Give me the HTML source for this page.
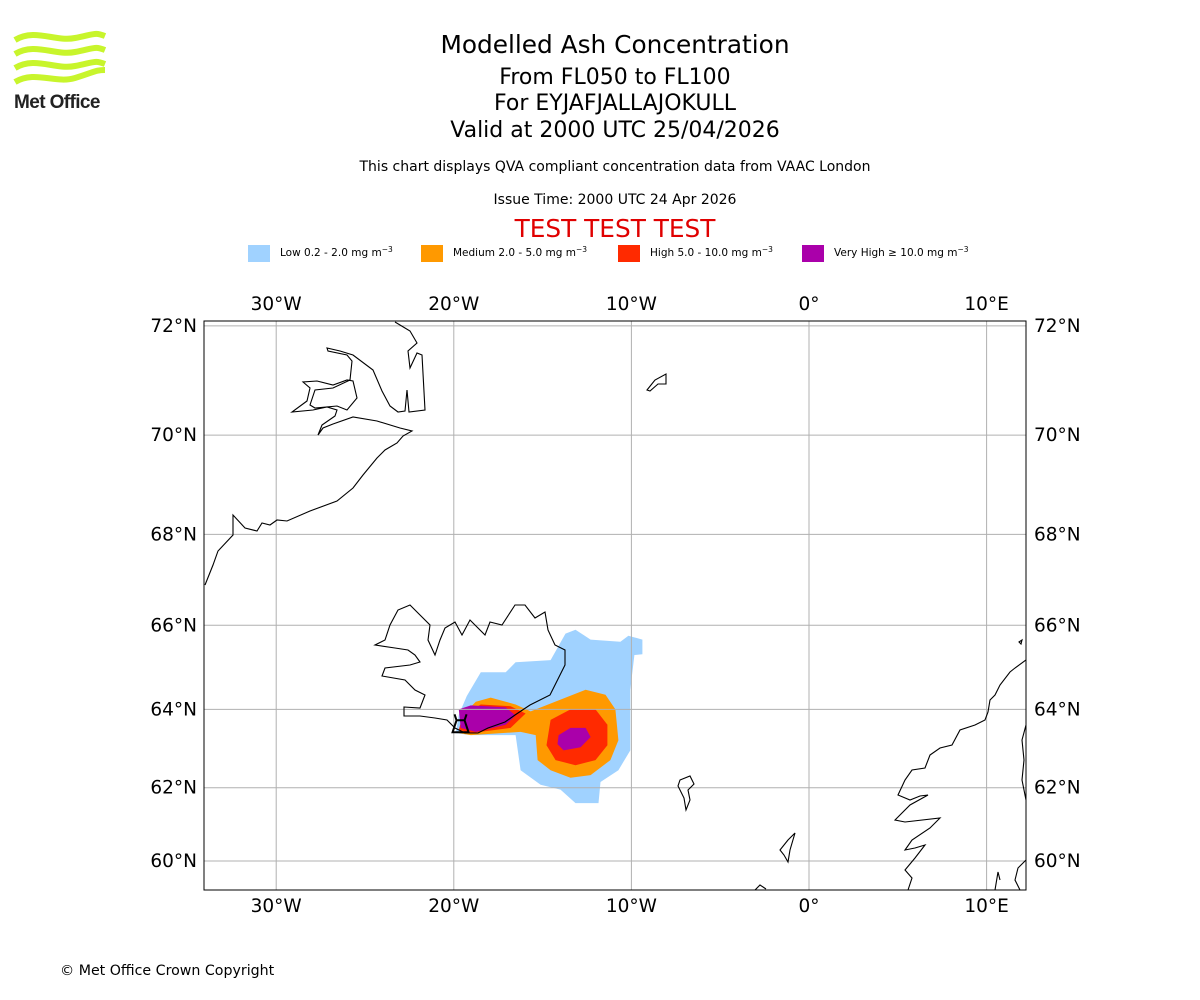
<!DOCTYPE html>
<html><head><meta charset="utf-8"><style>
body{margin:0;background:#fff;}
svg{display:block;font-family:"DejaVu Sans","Liberation Sans",sans-serif;}
</style></head><body>
<svg id="c" width="1200" height="1000" viewBox="0 0 1200 1000">
<g fill="none" stroke="#c8f52c" stroke-width="6">
<path d="M15,40 C35,28 55,42 75,38 S95,32 105,36"/>
<path d="M15,54 C35,42 55,56 75,52 S95,46 105,50"/>
<path d="M15,68 C35,56 55,70 75,66 S95,60 105,64"/>
<path d="M15,82 C35,70 55,84 75,78 S95,70 105,70"/>
<text x="14" y="108" font-family="Liberation Sans,sans-serif" font-size="19" font-weight="bold" fill="#222" stroke="none" letter-spacing="-0.6">Met Office</text>
</g>
<g text-anchor="middle">
<text x="615" y="53" font-size="24.8">Modelled Ash Concentration</text>
<text x="615" y="84" font-size="22">From FL050 to FL100</text>
<text x="615" y="110" font-size="22">For EYJAFJALLAJOKULL</text>
<text x="615" y="137" font-size="22">Valid at 2000 UTC 25/04/2026</text>
<text x="615" y="171" font-size="14">This chart displays QVA compliant concentration data from VAAC London</text>
<text x="615" y="204" font-size="14">Issue Time: 2000 UTC 24 Apr 2026</text>
<text x="615" y="237" font-size="24.8" fill="#e00000">TEST TEST TEST</text>
</g>
<g font-size="10.5">
<rect x="248" y="245" width="22" height="17" fill="#a0d2ff"/>
<text x="280" y="256">Low 0.2 - 2.0 mg m<tspan dy="-4" font-size="7.5">−3</tspan></text>
<rect x="421" y="245" width="22" height="17" fill="#ff9900"/>
<text x="453" y="256">Medium 2.0 - 5.0 mg m<tspan dy="-4" font-size="7.5">−3</tspan></text>
<rect x="618" y="245" width="22" height="17" fill="#ff2a00"/>
<text x="650" y="256">High 5.0 - 10.0 mg m<tspan dy="-4" font-size="7.5">−3</tspan></text>
<rect x="802" y="245" width="22" height="17" fill="#aa00aa"/>
<text x="834" y="256">Very High  ≥  10.0 mg m<tspan dy="-4" font-size="7.5">−3</tspan></text>
</g>
<g id="plot"></g>
<text x="60" y="975" font-size="14.2">© Met Office Crown Copyright</text>
</svg>
<script>
const lonTicks=[-30,-20,-10,0,10];
const lonLabels=["30°W","20°W","10°W","0°","10°E"];
const latTicks=[60,62,64,66,68,70,72];
const latLabels=["60°N","62°N","64°N","66°N","68°N","70°N","72°N"];
const lowLon=[-19.27,-18.48,-17.08,-16.52,-14.55,-13.71,-13.15,-12.30,-10.62,-10.17,-9.38,-9.38,-9.83,-10.06,-10.06,-10.73,-11.74,-11.85,-13.15,-13.99,-15.11,-16.24,-16.52,-19.04,-19.89,-19.72];
const lowLat=[64.33,64.90,64.90,65.14,65.19,65.81,65.90,65.67,65.62,65.76,65.67,65.33,65.31,64.48,62.97,62.46,62.15,61.59,61.59,61.95,62.08,62.46,63.36,63.36,63.41,63.87];
const medLon=[-19.49,-18.76,-17.92,-16.52,-15.67,-13.99,-12.58,-11.46,-10.90,-10.73,-11.18,-12.30,-13.43,-14.55,-15.28,-15.39,-16.24,-19.04,-19.72];
const medLat=[63.87,64.19,64.29,64.12,63.95,64.24,64.48,64.36,64.00,63.23,62.72,62.33,62.26,62.46,62.72,63.36,63.44,63.36,63.41];
const highWLon=[-19.49,-18.48,-16.80,-15.96,-16.80,-19.04,-19.72];
const highWLat=[63.87,64.12,64.08,63.90,63.54,63.41,63.49];
const highELon=[-14.55,-13.43,-12.02,-11.35,-11.35,-12.02,-13.15,-14.27,-14.78];
const highELat=[63.74,64.00,64.00,63.62,63.10,62.72,62.59,62.72,63.10];
const vhWLon=[-19.72,-19.04,-17.08,-16.52,-17.08,-18.76,-19.61];
const vhWLat=[64.00,64.10,64.05,63.85,63.62,63.44,63.54];
const vhELon=[-14.10,-13.43,-12.58,-12.30,-12.86,-13.82,-14.16];
const vhELat=[63.36,63.54,63.54,63.31,63.05,62.97,63.13];
const volcanoLon=[-19.62];
const volcanoLat=[63.63];

const NS='http://www.w3.org/2000/svg';
const L=204,R=1026,T=321,B=890;
const K=1017.7;
const merc=a=>Math.log(Math.tan(Math.PI/4+a*Math.PI/360));
const xS=lon=>809+lon*17.76;
const yS=lat=>861-K*(merc(lat)-merc(60));
const g=document.getElementById('plot');
function mk(t,a,p){const e=document.createElementNS(NS,t);for(const k in a)e.setAttribute(k,a[k]);(p||g).appendChild(e);return e;}
const defs=mk('defs',{});
const cp=mk('clipPath',{id:'clip'},defs);mk('rect',{x:L,y:T,width:R-L,height:B-T},cp);
const inner=mk('g',{'clip-path':'url(#clip)'});


function poly(lons,lats,fill,name){
 const pts=lons.map((v,i)=>xS(v).toFixed(1)+','+yS(lats[i]).toFixed(1)).join(' ');
 const p=mk('polygon',{points:pts,fill:fill},inner);
 
 
}
poly(lowLon,lowLat,'#a0d2ff','ash-low');
poly(medLon,medLat,'#ff9900','ash-medium');
poly(highWLon,highWLat,'#ff2a00','ash-high-west');
poly(highELon,highELat,'#ff2a00','ash-high-east');
poly(vhWLon,vhWLat,'#aa00aa','ash-very-high-west');
poly(vhELon,vhELat,'#aa00aa','ash-very-high-east');
lonTicks.forEach(v=>{const l=mk('line',{x1:xS(v),x2:xS(v),y1:T,y2:B,stroke:'#b0b0b0','stroke-width':1},inner);

});
latTicks.forEach(v=>{const l=mk('line',{x1:L,x2:R,y1:yS(v),y2:yS(v),stroke:'#b0b0b0','stroke-width':1},inner);

});
const coasts=[
"M205,585 L213,565 218,551 233,535 233,515 245,528 257,531 262,523 270,525 277,520 287,521 310,511 337,501 353,488 363,475 377,458 385,450 397,443 403,436 412,431 400,428 377,421 353,417 333,424 323,428 318,435 322,425 335,416 337,410 327,407 313,410 292,412 307,401 310,388 303,382 317,381 333,385 347,380 353,381 357,398 347,410 337,406 315,408 310,405 315,390 333,388 350,380 352,361 347,355 328,351 327,348 340,351 353,355 373,370 382,391 390,406 398,412 405,411 407,390 409,412 425,410 422,355 417,353 410,368 408,351 417,343 410,331 395,322",
"M404,707 L420,708 425,695 415,690 405,680 382,676 385,668 410,665 420,662 415,655 408,650 395,648 375,645 385,640 390,625 398,610 410,605 420,615 430,625 428,640 435,655 440,640 445,628 455,622 462,635 470,620 485,635 490,622 502,625 515,605 525,605 535,618 545,612 548,630 555,645 565,650 565,665 555,685 550,695 530,705 515,715 505,722 488,728 478,733 465,733 455,728 447,720 435,718 420,716 404,716Z",
"M647,390 L655,380 666,374 666,384 658,384 650,391Z",
"M680,780 L690,776 694,784 688,790 690,800 686,810 684,798 678,786Z",
"M780,850 L788,840 795,833 790,850 788,862 784,855Z",
"M755,890 L760,885 766,889",
"M1026,660 L1015,668 1010,672 1000,685 995,695 990,700 988,712 985,720 975,725 960,730 952,745 940,748 930,755 925,768 912,770 905,780 898,795 910,800 920,796 928,795 910,805 895,820 905,822 940,818 930,828 912,840 905,850 915,848 925,845 915,858 905,870 912,878 908,890",
"M1019,642 L1022,640 1021,644Z",
"M1026,725 L1022,740 1024,760 1022,780 1026,800",
"M995,890 L998,872 1000,880",
"M1026,860 L1018,868 1015,880 1020,890"];
coasts.forEach((d,i)=>{const p=mk('path',{d:d,fill:'none',stroke:'#000','stroke-width':1.1},inner);

});
volcanoLon.forEach((v,i)=>{const x=xS(v),y=yS(volcanoLat[i]);
const p=mk('path',{d:`M${x-8},${y+8} L${x-4},${y-4} L${x+4},${y-4} L${x+8},${y+8} Z M${x-6},${y-10} L${x-4},${y-4} M${x+6},${y-10} L${x+4},${y-4}`,fill:'none',stroke:'#000','stroke-width':2});

});
const fr=mk('rect',{x:L,y:T,width:R-L,height:B-T,fill:'none',stroke:'#000','stroke-width':1});


lonTicks.forEach((v,i)=>{
 [310,912].forEach(y=>{const t=mk('text',{x:xS(v),y:y,'text-anchor':'middle','font-size':18.5});t.textContent=lonLabels[i];
 
 });
});
latTicks.forEach((v,i)=>{
 const y=yS(v)+6;
 const a=mk('text',{x:197,y:y,'text-anchor':'end','font-size':18.5});a.textContent=latLabels[i];
 
 
 const b=mk('text',{x:1034,y:y,'text-anchor':'start','font-size':18.5});b.textContent=latLabels[i];
 
 
});
</script>
</body></html>
